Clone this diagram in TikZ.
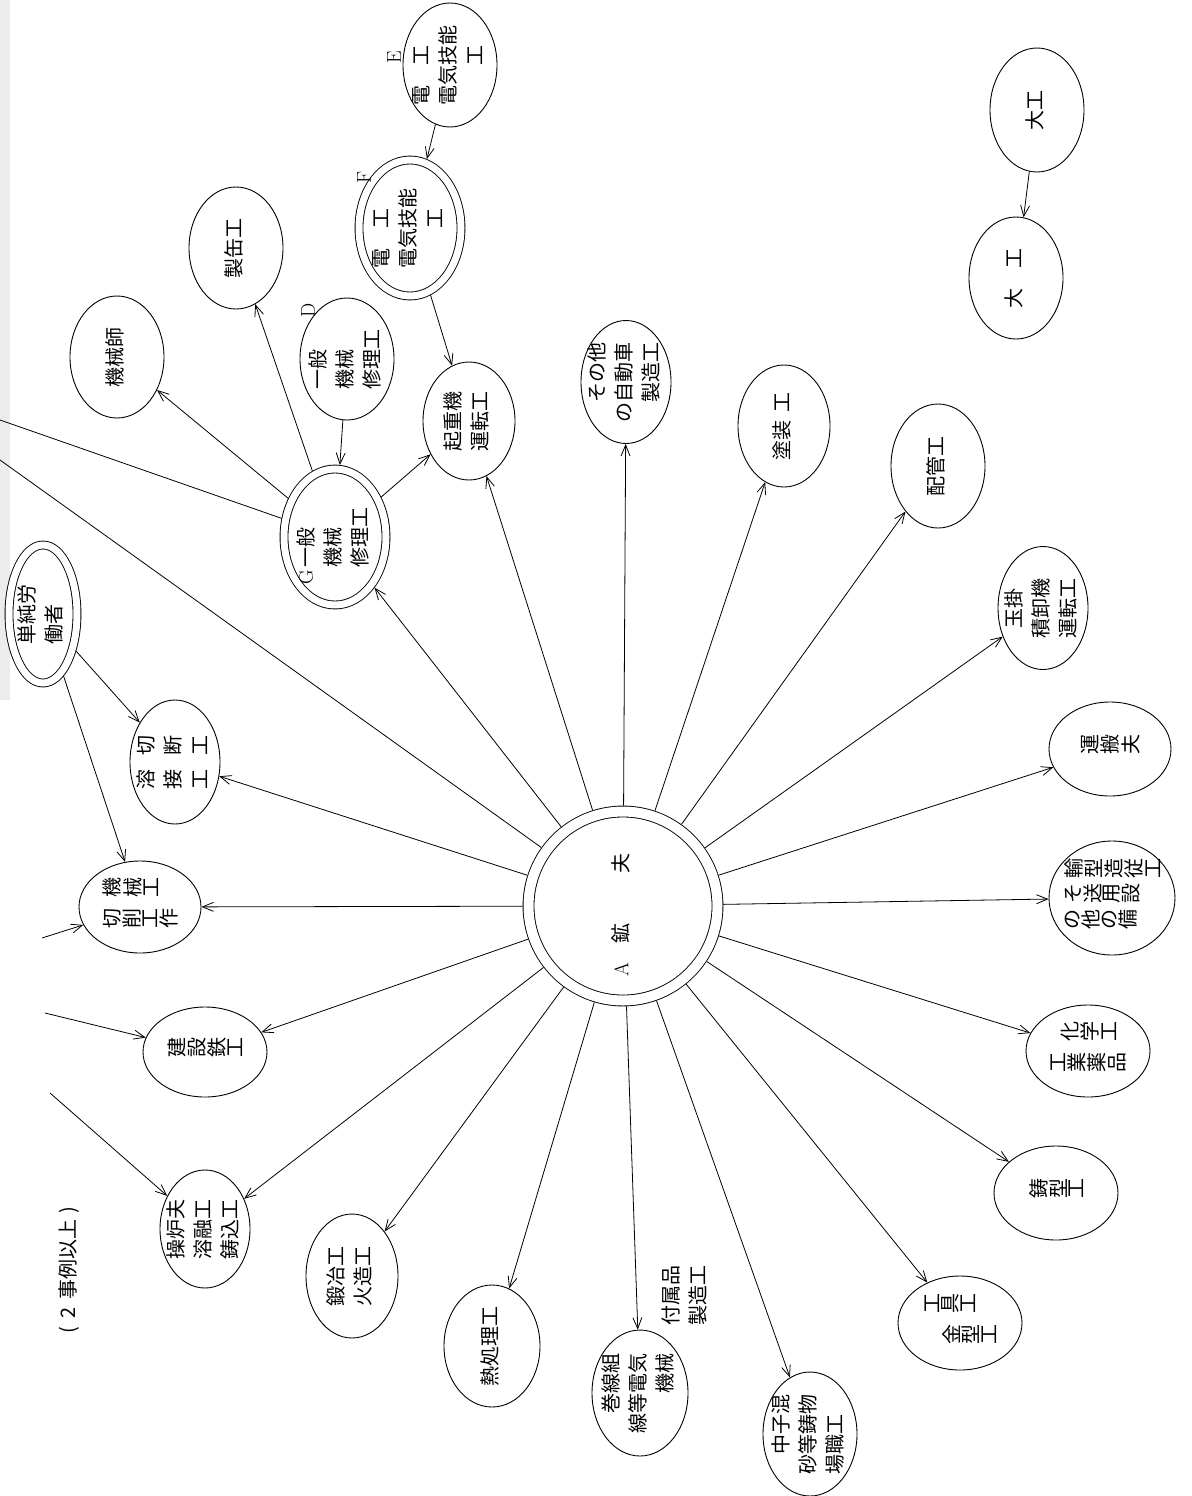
\documentclass[tikz,border=0pt]{standalone}
\usepackage{fontspec}
\usetikzlibrary{shapes.geometric,arrows.meta}
\newfontfamily\jp{Noto Sans CJK JP}
\newcommand\rt[2][c]{\rotatebox{90}{\begin{tabular}{@{}#1@{}}#2\end{tabular}}}
\newcommand\rr[2][c]{\begin{tabular}{@{}#1@{}}#2\end{tabular}}
\newcommand\rc[1]{\hspace{1pt}\rotatebox{90}{#1}\hspace{1pt}}
\begin{document}
\begin{tikzpicture}[x=1pt,y=-1pt,
  font=\jp\fontsize{20pt}{27pt}\selectfont,
  el/.style={draw, ellipse, line width=0.9pt, inner sep=0pt},
  dbl/.style={el, double, double distance=7pt, outer sep=4.4pt},
  arr/.style={line width=0.8pt, -{Straight Barb[length=11pt,width=9pt]}},
  ln/.style={line width=0.8pt},
  lab/.style={font=\rmfamily\fontsize{20pt}{22pt}\selectfont, inner sep=0pt},
  tx/.style={inner sep=0pt, align=center},
]
\useasboundingbox (0,0) rectangle (1191,1496);
\fill[gray!15] (0,0) rectangle (10,700);

% ---- nodes ----
\node[el, minimum width=94, minimum height=124, label={[tx]center:{\rt[l]{電　工\\電気技能\\　　工}}}] (denkiE) at (450,65) {};
\node[dbl, minimum width=102, minimum height=136, label={[tx]center:{\rt[l]{電　工\\電気技能\\　　工}}}] (denkiF) at (410,228) {};
\node[el, minimum width=94, minimum height=122, label={[tx]center:{\rt{製缶工}}}] (seikan) at (236,248) {};
\node[el, minimum width=94, minimum height=122, label={[tx]center:{\rt{機械師}}}] (kikaishi) at (117,357) {};
\node[el, minimum width=94, minimum height=122, label={[tx]center:{\rt[l]{一般\\機械\\修理工}}}] (ippanD) at (347,359) {};
\node[el, minimum width=92, minimum height=118, label={[tx]center:{\rt[l]{起重機\\運転工}}}] (kijuki) at (469,421) {};
\node[dbl, minimum width=102, minimum height=136, label={[tx]center:{\rt[l]{一般\\機械\\修理工}}}] (ippanG) at (335,537) {};
\node[el, minimum width=90, minimum height=123, label={[tx]center:{\rt[r]{その他\\の自動車\\製造工}}}] (jidosha) at (626,382) {};
\node[el, minimum width=92, minimum height=122, label={[tx]center:{\rt{塗装\hspace{8pt}工}}}] (toso) at (784,426) {};
\node[el, minimum width=94, minimum height=124, label={[tx]center:{\rt{配管工}}}] (haikan) at (938,466) {};
\node[el, minimum width=90, minimum height=123, label={[tx]center:{\rt{玉掛\\積卸機\\運転工}}}] (tamakake) at (1043,608) {};
\node[el, minimum width=122, minimum height=94, label={[tx]center:{\rr{\rc{運}\rc{搬}\rc{夫}}}}] (unpan) at (1110,749) {};
\node[el, minimum width=126, minimum height=114, label={[tx]center:{\rr[l]{\rc{輸}\rc{型}\rc{造}\rc{従}\rc{工}\\[-3pt]\rc{そ}\rc{送}\rc{用}\rc{設}\\[-3pt]\rc{の}\rc{他}\rc{の}\rc{備}}}}] (unso) at (1112,898) {};
\node[el, minimum width=124, minimum height=92, label={[tx]center:{\rr{\rc{化}\rc{学}\rc{工}\\[2pt]\rc{工}\rc{業}\rc{薬}\rc{品}}}}] (kagaku) at (1088,1051) {};
\node[el, minimum width=124, minimum height=94, label={[tx]center:{\rr{\rc{鋳}\rc{型}\rc{工}}}}] (igata) at (1056,1193) {};
\node[el, minimum width=124, minimum height=94, label={[tx]center:{\rr[l]{\rc{工}\rc{具}\rc{工}\\[2pt]\hspace{18pt}\rc{金}\rc{型}\rc{工}}}}] (kogu) at (960,1323) {};
\node[el, minimum width=94, minimum height=124, label={[tx]center:{\rt[l]{　中子混\\砂等鋳物\\場職工}}}] (nakago) at (810,1434) {};
\node[el, minimum width=96, minimum height=126, label={[tx]center:{\rt[r]{巻線組\\線等電気\\機械\hspace{10pt}}}}] (makisen) at (640,1393) {};
\node[el, minimum width=96, minimum height=122, label={[tx]center:{\rt{熱処理工}}}] (netsu) at (492,1346) {};
\node[el, minimum width=92, minimum height=124, label={[tx]center:{\rt{鍛冶工\\火造工}}}] (tanya) at (352,1276) {};
\node[el, minimum width=90, minimum height=118, label={[tx]center:{\rt{操炉夫\\溶融工\\鋳込工}}}] (soro) at (205,1229) {};
\node[el, minimum width=124, minimum height=90, label={[tx]center:{\rr{\rc{建}\rc{設}\rc{鉄}\rc{工}}}}] (kensetsu) at (205,1052) {};
\node[el, minimum width=122, minimum height=92, label={[tx]center:{\rr[l]{\rc{機}\rc{械}\rc{工}\\[2pt]\rc{切}\rc{削}\rc{工}\rc{作}}}}] (sessaku) at (140,907) {};
\node[el, minimum width=90, minimum height=124, label={[tx]center:{\rt{溶\hspace{14pt}切\\接\hspace{14pt}断\\工\hspace{14pt}工}}}] (yosetsu) at (175,762) {};
\node[dbl, minimum width=68, minimum height=138, label={[tx]center:{\rt[l]{単純労\\働者}}}] (tanjun) at (43,614) {};
\node[el, minimum width=94, minimum height=124, label={[tx]center:{\rt{大工}}}] (daiku1) at (1037,110) {};
\node[el, minimum width=94, minimum height=122, label={[tx]center:{\rt{大\hspace{20pt}工}}}] (daiku2) at (1016,278) {};
\node[el, double, double distance=10pt, outer sep=6pt, minimum width=189, minimum height=189,
  label={[tx,yshift=-9pt]center:{\rt{{\rmfamily A}\hspace{20pt}鉱\hspace{50pt}夫}}}] (kofu) at (623,906) {};

% ---- free texts ----
\node[tx] (note) at (70,1270) {\rt{(\hspace{8pt}2\hspace{8pt}事例以上\hspace{6pt})}};
\node[tx] (fuzoku) at (687,1295) {\rt[l]{付属品\\製造工}};
\node[lab] (labD) at (308,310) {\rotatebox{90}{D}};
\node[lab] (labG) at (306,577) {\rotatebox{90}{G}};
\node[lab] (labE) at (394,57) {\rotatebox{90}{E}};
\node[lab] (labF) at (364,177) {\rotatebox{90}{F}};

% ---- free ends at the left edge ----
\coordinate (p1) at (0,420);
\coordinate (p2) at (0,460);
\coordinate (p3) at (42,938);
\coordinate (p4) at (45,1013);
\coordinate (p5) at (50,1093);

% ---- connectors ----
\draw[arr] (denkiE) -- (denkiF);
\draw[arr] (denkiF) -- (kijuki);
\draw[arr] (ippanD) -- (ippanG);
\draw[arr] (ippanG) -- (kikaishi);
\draw[arr] (ippanG) -- (seikan);
\draw[arr] (ippanG) -- (kijuki);
\draw[arr] (daiku1) -- (daiku2);
\draw[arr] (tanjun) -- (yosetsu);
\draw[arr] (tanjun) -- (sessaku);
\foreach \t in {ippanG,kijuki,jidosha,toso,haikan,tamakake,unpan,unso,kagaku,igata,kogu,nakago,makisen,netsu,tanya,soro,kensetsu,sessaku,yosetsu}
  \draw[arr] (kofu) -- (\t);
\draw[ln] (p1) -- (ippanG);
\draw[ln] (p2) -- (kofu);
\draw[arr] (p3) -- (sessaku);
\draw[arr] (p4) -- (kensetsu);
\draw[arr] (p5) -- (soro);
\end{tikzpicture}
\end{document}
